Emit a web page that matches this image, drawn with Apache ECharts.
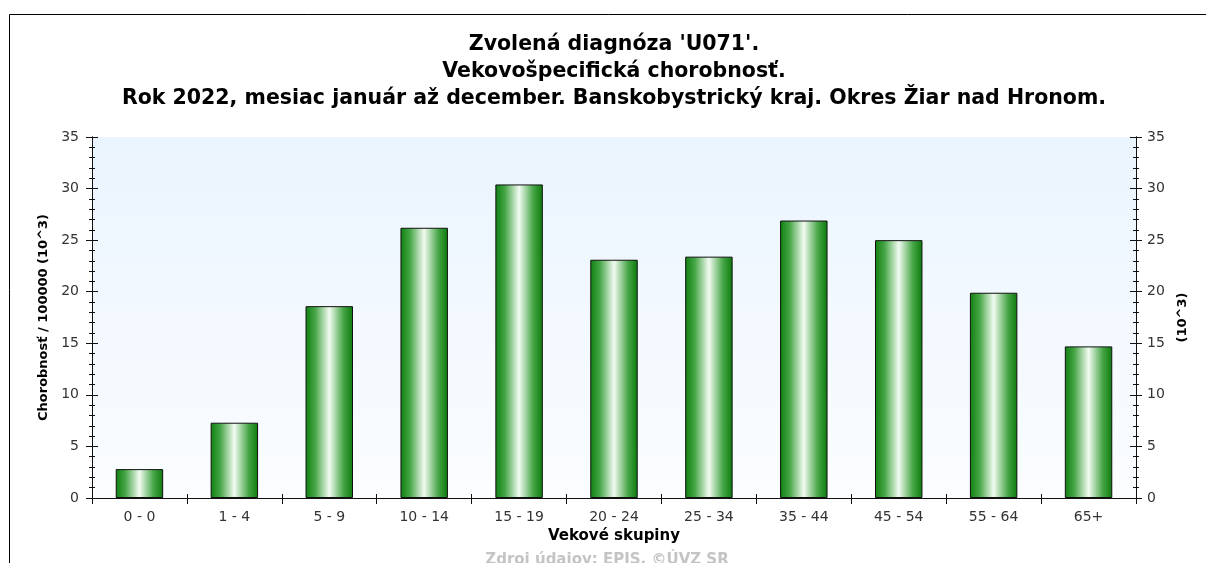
<!DOCTYPE html>
<html>
<head>
<meta charset="utf-8">
<script src="https://cdn.jsdelivr.net/npm/echarts@6/dist/echarts.min.js"></script>
<style>
html,body{margin:0;padding:0;background:#fff;}
#chart{width:1206px;height:563px;}
</style>
</head>
<body>
<div id="chart"></div>
<script>
const categories = ['0 - 0','1 - 4','5 - 9','10 - 14','15 - 19','20 - 24','25 - 34','35 - 44','45 - 54','55 - 64','65+'];
const values = [2.8, 7.3, 18.6, 26.2, 30.4, 23.1, 23.4, 26.9, 25.0, 19.9, 14.7];
const titleLines = [
  "Zvolená diagnóza 'U071'.",
  "Vekovošpecifická chorobnosť.",
  "Rok 2022, mesiac január až december. Banskobystrický kraj. Okres Žiar nad Hronom."
];
const yAxisName = 'Chorobnosť / 100000 (10^3)';
const yAxisRightName = '(10^3)';
const xAxisName = 'Vekové skupiny';
const sourceText = 'Zdroj údajov: EPIS, ©ÚVZ SR';

const FONT = '"DejaVu Sans", Verdana, sans-serif';
const chart = echarts.init(document.getElementById('chart'));

const axisLine = {show: true, lineStyle: {color: '#111', width: 1}};
function yAx(pos, inside, labels, name) {
  return {
    type: 'value', position: pos, min: 0, max: 35, interval: 5,
    axisLine: axisLine,
    axisTick: {show: true, inside: inside, length: 6, lineStyle: {color: '#111'}},
    minorTick: {show: true, splitNumber: 5, length: 3, lineStyle: {color: '#111'}},
    axisLabel: {show: labels, color: '#333', fontFamily: FONT, fontSize: 14, margin: pos === 'left' ? 13 : 11},
    splitLine: {show: false},
    name: name || '', nameLocation: 'middle', nameRotate: 90,
    nameGap: pos === 'left' ? 39 : 36,
    nameTextStyle: {fontFamily: FONT, fontSize: 13, fontWeight: 'bold', color: '#000'}
  };
}
function xAx(pos, inside, labels, len, name) {
  return {
    type: 'category', data: categories, position: pos,
    axisLine: axisLine,
    axisTick: {show: true, inside: inside, length: len, lineStyle: {color: '#111'}},
    axisLabel: {show: labels, color: '#333', fontFamily: FONT, fontSize: 14, margin: 12},
    name: name || '', nameLocation: 'middle', nameGap: 31,
    nameTextStyle: {fontFamily: FONT, fontSize: 15, fontWeight: 'bold', color: '#000'}
  };
}

chart.setOption({
  animation: false,
  title: {
    text: titleLines.join('\n'),
    left: 609, top: 26, textAlign: 'center',
    textStyle: {fontFamily: FONT, fontSize: 20.5, fontWeight: 'bold', color: '#000', lineHeight: 27}
  },
  graphic: [
    {type: 'rect', shape: {x: 9.5, y: 14.5, width: 1300, height: 700}, style: {fill: 'none', stroke: '#000', lineWidth: 1}, z: -1},
    {type: 'text', x: 607, y: 553, style: {text: sourceText, fill: '#c4c4c4', font: 'bold 15px ' + FONT, align: 'center', verticalAlign: 'top'}}
  ],
  grid: {
    left: 92, right: 70, top: 137, bottom: 65, show: true, borderWidth: 0,
    backgroundColor: {type: 'linear', x: 0, y: 0, x2: 0, y2: 1,
      colorStops: [{offset: 0, color: '#eaf4fe'}, {offset: 1, color: '#fbfdff'}]}
  },
  xAxis: [
    xAx('bottom', false, true, 6, xAxisName),
    xAx('bottom', true, false, 4),
    xAx('top', true, false, 5)
  ],
  yAxis: [
    yAx('left', false, true, yAxisName),
    yAx('left', true, false),
    yAx('right', false, true, yAxisRightName),
    yAx('right', true, false)
  ],
  series: [{
    type: 'bar', data: values, xAxisIndex: 0, yAxisIndex: 0,
    barWidth: '50%',
    itemStyle: {
      borderColor: '#111', borderWidth: 1,
      color: {type: 'linear', x: 0, y: 0, x2: 1, y2: 0,
        colorStops: [
          {offset: 0, color: '#0f800f'},
          {offset: 0.2, color: '#45a545'},
          {offset: 0.5, color: '#f2fbf2'},
          {offset: 0.8, color: '#45a545'},
          {offset: 1, color: '#0c7a0c'}
        ]}
    }
  }]
});
</script>
</body>
</html>
